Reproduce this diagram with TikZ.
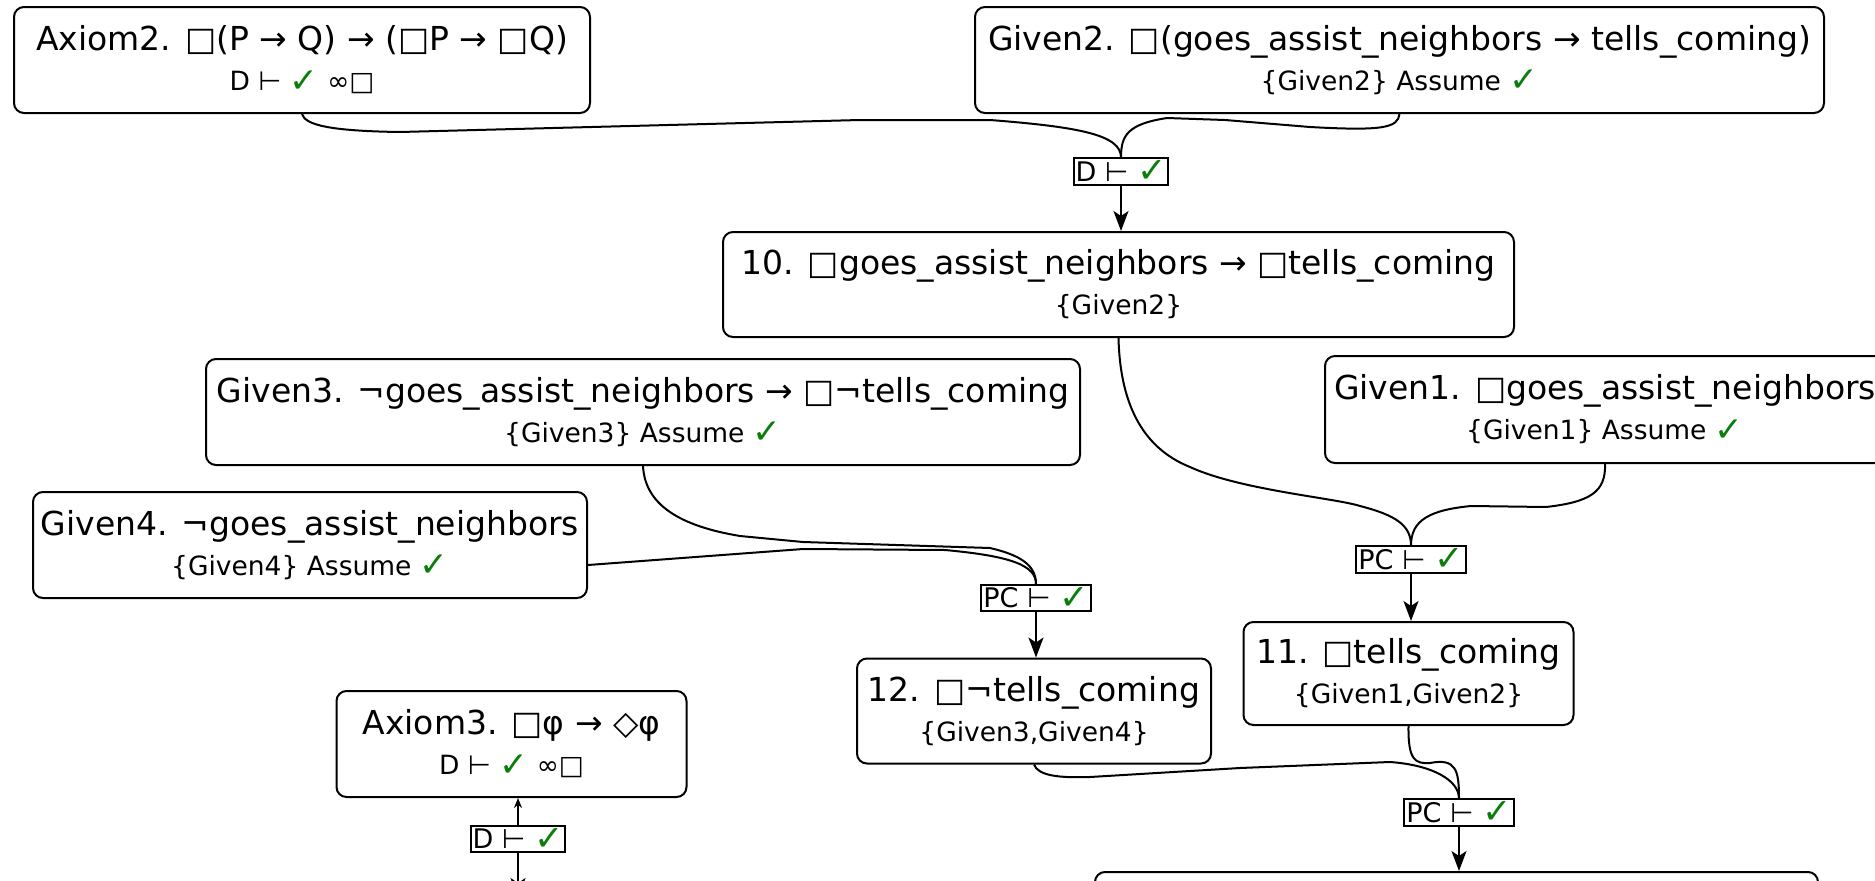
\documentclass[tikz,border=0pt]{standalone}
\usepackage{fontspec}
\setmainfont{DejaVu Sans}
\usepackage{xcolor}
\usepackage{graphicx}
\definecolor{cMain}{HTML}{000000}
\definecolor{cOK}{HTML}{0A7D0A}
\usepackage{tikz}
\usetikzlibrary{positioning,arrows.meta}
\newcommand{\chk}{\textcolor{cOK}{\raisebox{-0.05em}{\scalebox{1.3}{✓}}}}
\newcommand{\subline}[1]{{\fontsize{26.5}{40}\selectfont #1}}
\tikzset{
  node-box/.style={draw=cMain,line width=2pt,rounded corners=10pt,fill=white,
    minimum height=106pt,align=center,inner sep=4pt,
    font=\fontsize{33}{40}\selectfont},
  node-rule/.style={draw=cMain,line width=2pt,fill=white,inner sep=2pt,
    font=\fontsize{27}{33}\selectfont},
  link/.style={line width=2pt,draw=cMain},
  arrow/.style={link,-{Stealth[length=20pt,width=15pt,inset=5pt]}},
}

\begin{document}
\begin{tikzpicture}[x=1pt,y=-1pt]
  \path[fill=white,use as bounding box] (0,0) rectangle (1875,881);
  % premises and derived lines
  \node[node-box,minimum width=576pt] (ax2) at (302,60)
    {Axiom2. □(P → Q) → (□P → □Q)\\\subline{D ⊢ \chk{} ∞□}};
  \node[node-box,minimum width=849pt] (g2) at (1399.5,60)
    {Given2. □(goes\_assist\_neighbors → tells\_coming)\\\subline{\{Given2\} Assume \chk}};
  \node[node-rule] (r1) at (1121,171.5) {D ⊢ \chk};
  \node[node-box,minimum width=791pt,minimum height=105pt] (c10) at (1118.5,284.5)
    {10. □goes\_assist\_neighbors → □tells\_coming\\\subline{\{Given2\}}};
  \node[node-box,minimum width=874pt] (g3) at (643,412)
    {Given3. ¬goes\_assist\_neighbors → □¬tells\_coming\\\subline{\{Given3\} Assume \chk}};
  \node[node-box,minimum width=560pt,minimum height=107pt] (g1) at (1605,409.5)
    {Given1. □goes\_assist\_neighbors\\\subline{\{Given1\} Assume \chk}};
  \node[node-box,minimum width=554pt] (g4) at (310,545)
    {Given4. ¬goes\_assist\_neighbors\\\subline{\{Given4\} Assume \chk}};
  \node[node-rule] (rpc1) at (1036,598) {PC ⊢ \chk};
  \node[node-rule] (rpc2) at (1411,559.5) {PC ⊢ \chk};
  \node[node-box,minimum width=354pt,minimum height=105pt] (c12) at (1034,711)
    {12. □¬tells\_coming\\\subline{\{Given3,Given4\}}};
  \node[node-box,minimum width=330pt,minimum height=103pt] (c11) at (1408.5,673.5)
    {11. □tells\_coming\\\subline{\{Given1,Given2\}}};
  \node[node-box,minimum width=350pt] (ax3) at (511.5,744)
    {Axiom3. □φ → ◇φ\\\subline{D ⊢ \chk{} ∞□}};
  \node[node-rule] (rd2) at (518,839) {D ⊢ \chk};
  \node[node-rule] (rpc3) at (1459,812.5) {PC ⊢ \chk};
  \node[node-box,minimum width=723pt,minimum height=105pt] (c13) at (1456.5,924.5) {};
  \coordinate (down) at (518,898);

  \draw[link] (ax2.south) .. controls (305,125) and (330,131) .. (400,132)
    -- (860,120) -- (990,120) .. controls (1080,127) and (1121,135) .. (r1.north);
  \draw[link] (g2.south) .. controls (1398,128) and (1382,131) .. (1310,127)
    -- (1225,120) -- (1167,118) .. controls (1128,124) and (1121,135) .. (r1.north);
  \draw[arrow] (r1.south) -- (r1.south |- c10.north);

  \draw[link] (g3.south) .. controls (645,505) and (680,526) .. (740,536)
    -- (803,542) -- (990,548) .. controls (1020,555) and (1036,565) .. (rpc1.north);
  \draw[link] ([yshift=-20pt]g4.east) -- (803,549) -- (945,550)
    .. controls (1010,556) and (1036,565) .. (rpc1.north);
  \draw[arrow] (rpc1.south) -- (rpc1.south |- c12.north);

  \draw[link] (c10.south) .. controls (1120,400) and (1140,447) .. (1190,467)
    .. controls (1240,490) and (1335,498) .. (1360,506)
    .. controls (1395,515) and (1411,525) .. (rpc2.north);
  \draw[link] (g1.south) .. controls (1606,492) and (1590,502) .. (1546,507)
    -- (1471,506) .. controls (1430,510) and (1411,520) .. (rpc2.north);
  \draw[arrow] (rpc2.south) -- (rpc2.south |- c11.north);

  \draw[link] (c12.south) .. controls (1038,776) and (1060,778) .. (1090,777)
    -- (1240,768) -- (1390,762) .. controls (1432,765) and (1459,780) .. (rpc3.north);
  \draw[link] (c11.south) .. controls (1408,760) and (1415,764) .. (1430,763)
    .. controls (1456,758) and (1459,770) .. (rpc3.north);
  \draw[arrow] (rpc3.south) -- (rpc3.south |- c13.north);

  \draw[link,{Stealth[length=10pt,width=8pt]}-] (rd2.north |- ax3.south) -- (rd2.north);
  \draw[arrow] (rd2.south) -- (down);
\end{tikzpicture}
\end{document}
